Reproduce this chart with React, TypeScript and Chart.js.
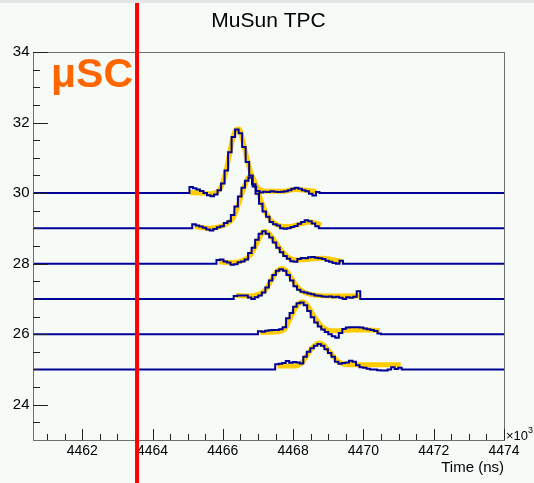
import { useEffect, useRef } from 'react';
import { Chart, registerables } from 'chart.js';
Chart.register(...registerables);

const FONT = "'Liberation Sans', Arial, Helvetica, sans-serif";

const chartTitle = 'MuSun TPC';
const xTitle = 'Time (ns)';
const xMin = 4460.6;
const xMax = 4474;
const yMin = 23;
const yMax = 34;
const xTickLabels = [4462, 4464, 4466, 4468, 4470, 4472, 4474];
const yTickLabels = [24, 26, 28, 30, 32, 34];
const minorStep = 0.5;
const binWidth = 0.1;
const redLineX = 4463.56;

const baselines = [30, 29, 28, 27, 26, 25];
const traceStarts = [4464.95, 4465.13, 4465.82, 4466.31, 4467.0, 4467.49];

const trace1 = [0.0, 0.17, 0.14, 0.10, 0.06, 0.0, -0.06, -0.09, -0.04, 0.08, 0.27, 0.64, 1.16, 1.59, 1.80, 1.70, 1.31, 0.88, 0.50, 0.19, 0.06, 0.02, 0.04, 0.03, 0.05, 0.04, 0.03, 0.04, 0.05, 0.08, 0.12, 0.15, 0.12, 0.08, 0.05, -0.02, -0.07, 0.03];
const trace2 = [0.12, 0.08, 0.05, 0.02, -0.03, -0.06, -0.02, 0.03, 0.06, 0.15, 0.20, 0.38, 0.62, 0.90, 1.15, 1.35, 1.44, 1.25, 0.98, 0.70, 0.48, 0.33, 0.18, 0.12, 0.08, 0.0, -0.01, 0.0, 0.04, 0.07, 0.13, 0.18, 0.23, 0.20, 0.14, 0.06];
const trace3 = [0.10, 0.12, 0.06, 0.03, -0.03, -0.02, 0.04, 0.06, 0.12, 0.30, 0.45, 0.68, 0.85, 0.92, 0.85, 0.74, 0.60, 0.45, 0.32, 0.22, 0.14, 0.07, 0.05, 0.13, 0.16, 0.15, 0.18, 0.19, 0.17, 0.15, 0.13, 0.08, 0.05, 0.02, 0.0, 0.08];
const trace4 = [0.08, 0.10, 0.10, 0.10, 0.04, 0.0, 0.05, 0.10, 0.18, 0.32, 0.52, 0.68, 0.80, 0.84, 0.80, 0.68, 0.52, 0.36, 0.26, 0.20, 0.18, 0.15, 0.13, 0.10, 0.09, 0.07, 0.06, 0.07, 0.05, 0.06, 0.03, 0.0, 0.05, 0.03, 0.06, 0.22];
const trace5 = [0.08, 0.07, 0.10, 0.11, 0.12, 0.12, 0.14, 0.20, 0.45, 0.60, 0.78, 0.88, 0.90, 0.82, 0.66, 0.48, 0.33, 0.22, 0.13, 0.06, 0.0, -0.06, -0.10, 0.03, 0.15, 0.19, 0.20, 0.20, 0.20, 0.19, 0.16, 0.14, 0.12, 0.09, 0.02];
const trace6 = [0.15, 0.16, 0.18, 0.24, 0.19, 0.21, 0.20, 0.17, 0.36, 0.50, 0.60, 0.67, 0.72, 0.67, 0.57, 0.47, 0.36, 0.22, 0.16, 0.18, 0.20, 0.25, 0.22, 0.12, 0.06, 0.05, 0.02, 0.0, 0.0, -0.02, -0.03, -0.03, 0.0, 0.06, 0.01, 0.05];

const fit1X = [4465.06, 4465.36, 4465.66, 4465.86, 4465.96, 4466.06, 4466.16, 4466.26, 4466.36, 4466.46, 4466.56, 4466.66, 4466.76, 4466.86, 4466.96, 4467.06, 4467.26, 4467.66, 4468.06, 4468.36, 4468.66];
const fit1Y = [0.02, 0.0, -0.02, 0.05, 0.2, 0.5, 0.95, 1.45, 1.78, 1.82, 1.52, 1.1, 0.7, 0.4, 0.2, 0.1, 0.05, 0.05, 0.1, 0.08, 0.05];
const fit2X = [4465.2, 4465.6, 4465.9, 4466.1, 4466.3, 4466.4, 4466.5, 4466.6, 4466.7, 4466.8, 4466.9, 4467.0, 4467.1, 4467.2, 4467.3, 4467.4, 4467.6, 4467.9, 4468.2, 4468.5, 4468.8];
const fit2Y = [0.05, 0.0, 0.05, 0.12, 0.3, 0.55, 0.85, 1.15, 1.4, 1.5, 1.35, 1.05, 0.75, 0.5, 0.32, 0.2, 0.08, 0.05, 0.12, 0.18, 0.1];
const fit3X = [4465.89, 4466.29, 4466.59, 4466.79, 4466.89, 4466.99, 4467.09, 4467.19, 4467.29, 4467.39, 4467.49, 4467.59, 4467.69, 4467.79, 4467.89, 4468.09, 4468.39, 4468.79, 4469.09, 4469.39];
const fit3Y = [0.05, 0.03, 0.1, 0.25, 0.42, 0.62, 0.82, 0.92, 0.88, 0.76, 0.62, 0.48, 0.35, 0.25, 0.16, 0.1, 0.12, 0.15, 0.12, 0.06];
const fit4X = [4466.38, 4466.78, 4466.98, 4467.18, 4467.28, 4467.38, 4467.48, 4467.58, 4467.68, 4467.78, 4467.88, 4467.98, 4468.08, 4468.18, 4468.38, 4468.68, 4469.08, 4469.48, 4469.88];
const fit4Y = [0.1, 0.08, 0.12, 0.22, 0.36, 0.54, 0.7, 0.82, 0.86, 0.82, 0.7, 0.55, 0.4, 0.28, 0.16, 0.1, 0.08, 0.08, 0.08];
const fit5X = [4467.07, 4467.47, 4467.77, 4467.87, 4467.97, 4468.07, 4468.17, 4468.27, 4468.37, 4468.47, 4468.57, 4468.67, 4468.77, 4468.87, 4469.07, 4469.37, 4469.77, 4470.17, 4470.47];
const fit5Y = [0.05, 0.06, 0.15, 0.35, 0.55, 0.75, 0.88, 0.92, 0.86, 0.72, 0.55, 0.4, 0.27, 0.17, 0.1, 0.1, 0.12, 0.12, 0.1];
const fit6X = [4467.56, 4468.06, 4468.26, 4468.36, 4468.46, 4468.56, 4468.66, 4468.76, 4468.86, 4468.96, 4469.06, 4469.16, 4469.26, 4469.46, 4469.86, 4470.36, 4471.06];
const fit6Y = [0.1, 0.1, 0.2, 0.35, 0.5, 0.63, 0.72, 0.75, 0.7, 0.6, 0.48, 0.35, 0.24, 0.15, 0.13, 0.13, 0.13];

const traces = [trace1, trace2, trace3, trace4, trace5, trace6];
const fitsX = [fit1X, fit2X, fit3X, fit4X, fit5X, fit6X];
const fitsY = [fit1Y, fit2Y, fit3Y, fit4Y, fit5Y, fit6Y];

const BLUE = '#000099';
const YELLOW = '#ffcc00';

function histPoints(base: number, start: number, vals: number[]) {
  const pts: { x: number; y: number }[] = [{ x: xMin, y: base }];
  vals.forEach((v, i) => pts.push({ x: start + i * binWidth, y: base + v }));
  pts.push({ x: start + vals.length * binWidth, y: base });
  pts.push({ x: xMax, y: base });
  return pts;
}

function fitPoints(base: number, xs: number[], ys: number[]) {
  return xs.map((x, i) => ({ x, y: base + ys[i] }));
}

const decor = {
  id: 'decor',
  beforeDraw(chart: any) {
    const { ctx, width, height } = chart;
    ctx.save();
    ctx.fillStyle = '#f6fbf8';
    ctx.fillRect(0, 0, width, height);
    ctx.fillStyle = '#e4e6e5';
    ctx.fillRect(0, 0, width, 3);
    ctx.restore();
  },
  afterDraw(chart: any) {
    const { ctx, chartArea, height } = chart;
    const xs = chart.scales.x;
    const ys = chart.scales.y;
    const { left, right, top, bottom } = chartArea;
    ctx.save();
    // frame
    ctx.strokeStyle = '#6e6e6e';
    ctx.lineWidth = 1;
    ctx.strokeRect(Math.round(left) + 0.5, Math.round(top) + 0.5, Math.round(right - left), Math.round(bottom - top));
    // ticks
    ctx.strokeStyle = '#222';
    ctx.beginPath();
    for (let v = yMin + minorStep; v < yMax + 1e-6; v += minorStep) {
      const major = yTickLabels.some((t) => Math.abs(t - v) < 1e-6);
      const py = Math.round(ys.getPixelForValue(v)) + 0.5;
      ctx.moveTo(left, py);
      ctx.lineTo(left + (major ? 15 : 7), py);
    }
    for (let v = Math.ceil(xMin / minorStep) * minorStep; v < xMax + 1e-6; v += minorStep) {
      const major = xTickLabels.some((t) => Math.abs(t - v) < 1e-6);
      const px = Math.round(xs.getPixelForValue(v)) + 0.5;
      ctx.moveTo(px, bottom);
      ctx.lineTo(px, bottom - (major ? 11 : 6));
    }
    ctx.stroke();
    // red line
    const rx = xs.getPixelForValue(redLineX);
    ctx.fillStyle = '#ff0000';
    ctx.fillRect(rx - 2, 3, 4, height - 3);
    // muSC label
    ctx.fillStyle = '#ff6600';
    ctx.font = `bold 41px ${FONT}`;
    ctx.textAlign = 'left';
    ctx.textBaseline = 'alphabetic';
    ctx.fillText('μSC', 51, 87);
    // chart title
    ctx.fillStyle = '#000';
    ctx.font = `21px ${FONT}`;
    ctx.textAlign = 'center';
    ctx.fillText(chartTitle, (left + right) / 2, 27);
    // axis title
    ctx.font = `15px ${FONT}`;
    ctx.textAlign = 'right';
    ctx.fillText(xTitle, right, 472);
    // exponent
    ctx.textAlign = 'left';
    ctx.font = `13px ${FONT}`;
    ctx.fillText('×10', right + 2, 440);
    const w = ctx.measureText('×10').width;
    ctx.font = `9px ${FONT}`;
    ctx.fillText('3', right + 2 + w, 433);
    ctx.restore();
  },
};

export default function App() {
  const ref = useRef<HTMLCanvasElement | null>(null);
  useEffect(() => {
    if (!ref.current) return;
    const datasets: any[] = [];
    baselines.forEach((b, i) => {
      datasets.push({
        data: fitPoints(b, fitsX[i], fitsY[i]),
        borderColor: YELLOW,
        borderWidth: 5,
        pointRadius: 0,
        cubicInterpolationMode: 'monotone',
        fill: false,
        order: 2,
      });
    });
    baselines.forEach((b, i) => {
      datasets.push({
        data: histPoints(b, traceStarts[i], traces[i]),
        borderColor: BLUE,
        borderWidth: 2,
        pointRadius: 0,
        stepped: true,
        fill: false,
        order: 1,
      });
    });
    const chart = new Chart(ref.current, {
      type: 'line',
      data: { datasets },
      options: {
        responsive: false,
        devicePixelRatio: 1,
        animation: false,
        parsing: false,
        layout: { padding: { left: 0, right: 30, top: 52, bottom: 0 } },
        plugins: {
          legend: { display: false },
          tooltip: { enabled: false },
          title: { display: false },
        },
        scales: {
          x: {
            type: 'linear',
            min: xMin,
            max: xMax,
            grid: { display: false, drawTicks: false },
            border: { display: false },
            afterBuildTicks: (s: any) => {
              s.ticks = xTickLabels.map((v) => ({ value: v }));
            },
            afterFit: (s: any) => {
              s.height = 43;
            },
            ticks: {
              color: '#000',
              font: { family: FONT, size: 14 },
              padding: 3,
              maxRotation: 0,
              autoSkip: false,
              callback: (v: any) => String(v),
            },
          },
          y: {
            type: 'linear',
            min: yMin,
            max: yMax,
            grid: { display: false, drawTicks: false },
            border: { display: false },
            afterBuildTicks: (s: any) => {
              s.ticks = yTickLabels.map((v) => ({ value: v }));
            },
            afterFit: (s: any) => {
              s.width = 33;
            },
            ticks: {
              color: '#000',
              font: { family: FONT, size: 15 },
              padding: 3.5,
              autoSkip: false,
              callback: (v: any) => String(v),
            },
          },
        },
      },
      plugins: [decor],
    });
    return () => chart.destroy();
  }, []);
  return (
    <div style={{ position: 'absolute', left: 0, top: 0, width: 534, height: 483 }}>
      <canvas ref={ref} width={534} height={483} />
    </div>
  );
}
